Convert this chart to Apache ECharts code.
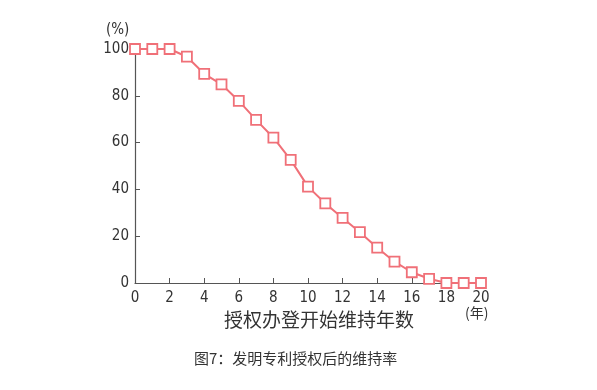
<!DOCTYPE html>
<html><head><meta charset="utf-8">
<script src="https://cdn.jsdelivr.net/npm/echarts@6/dist/echarts.min.js"></script>
<style>html,body{margin:0;padding:0;background:#fff}#c{width:597px;height:390px}</style>
</head><body><div id="c"></div>
<script>
const years = [0,1,2,3,4,5,6,7,8,9,10,11,12,13,14,15,16,17,18,19,20];
const rates = [100,100,100,96.7,89.4,84.9,77.8,69.7,62.1,52.6,41.2,34,27.8,21.7,15.1,9.1,4.6,1.8,0,0,0];
const xName = '授权办登开始维持年数';
const caption = '图7：发明专利授权后的维持率';
const yUnit = '(%)';
const xUnit = '(年)';
const lineColor = '#f07078';
const font = '"Liberation Sans Narrow","DejaVu Sans Condensed",sans-serif';
const cjk = '"Noto Sans CJK SC",sans-serif';
const chart = echarts.init(document.getElementById('c'), null, {renderer:'canvas'});
chart.setOption({
  animation:false,
  grid:{left:135,right:116,top:49,bottom:107,containLabel:false},
  xAxis:{type:'value',min:0,max:20,interval:2,
    axisLine:{show:true,lineStyle:{color:'#555',width:1.2}},
    axisTick:{show:true,inside:true,length:5,lineStyle:{color:'#555'}},
    axisLabel:{color:'#333',fontSize:15,fontFamily:font,margin:8},
    splitLine:{show:false}},
  yAxis:{type:'value',min:0,max:100,interval:20,
    axisLine:{show:true,lineStyle:{color:'#555',width:1.2}},
    axisTick:{show:true,inside:true,length:5,lineStyle:{color:'#555'}},
    axisLabel:{color:'#333',fontSize:15,fontFamily:font,margin:6},
    splitLine:{show:false}},
  graphic:[
    {type:'text',left:106,top:23,style:{text:yUnit,fontSize:15,fill:'#333',fontFamily:font}},
    {type:'text',left:465,top:306,style:{text:xUnit,fontSize:14,fill:'#333',fontFamily:cjk}},
    {type:'text',left:224,top:310,style:{text:xName,fontSize:19,fill:'#333',fontFamily:cjk}},
    {type:'text',left:194,top:351,style:{text:caption,fontSize:15,fill:'#333',fontFamily:cjk}}
  ],
  series:[{type:'line',data:years.map((x,i)=>[x,rates[i]]),
    symbol:'rect',symbolSize:10,showAllSymbol:true,
    lineStyle:{color:lineColor,width:2},
    itemStyle:{color:'#fff',borderColor:lineColor,borderWidth:1.8}}]
});
</script></body></html>
